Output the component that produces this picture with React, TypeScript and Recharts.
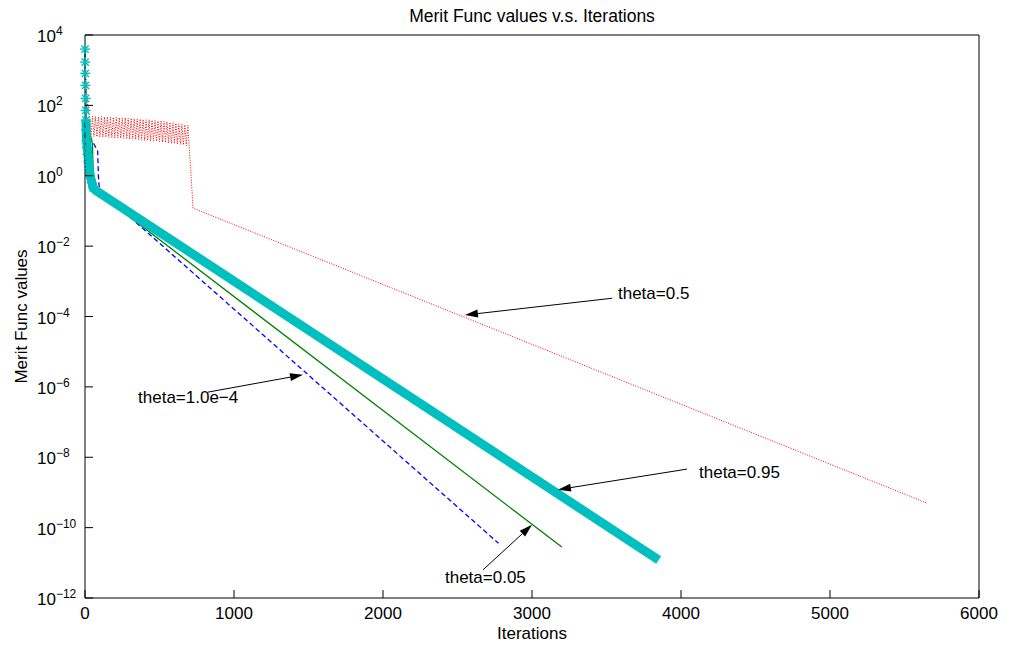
import { LineChart, Line, XAxis, YAxis, ReferenceLine, ReferenceDot, Label } from 'recharts';

// iteration numbers and merit function values
const redIter = [
  0, 10, 20,
  30, 40, 50, 60, 70, 80, 90, 100, 110, 120, 130, 140, 150, 160, 170, 180, 190, 200,
  210, 220, 230, 240, 250, 260, 270, 280, 290, 300, 310, 320, 330, 340, 350, 360, 370, 380,
  390, 400, 410, 420, 430, 440, 450, 460, 470, 480, 490, 500, 510, 520, 530, 540, 550, 560,
  570, 580, 590, 600, 610, 620, 630, 640, 650, 660, 670, 680, 690,
  700, 712, 725, 5650,
];
const redVal = [
  3981, 300, 80,
  50, 13, 49, 13, 49, 12.8, 48, 12.7, 48, 12.5, 47, 12.4, 47, 12.2, 46, 12, 46, 11.9,
  45, 11.8, 45, 11.6, 44, 11.5, 44, 11.2, 43, 11, 43, 10.9, 42, 10.7, 41, 10.5, 41, 10.3,
  40, 10.1, 39, 10, 39, 9.8, 38, 9.7, 37, 9.5, 36, 9.3, 36, 9, 35, 8.8, 34, 8.6,
  33, 8.4, 32, 8.2, 31, 8, 30, 7.8, 29, 7.5, 28, 7.2, 27,
  6, 1, 0.12, 5e-10,
];

const blueIter = [0, 3, 8, 20, 60, 85, 90, 95, 110, 2775];
const blueVal = [3981, 400, 40, 15, 8, 5, 1, 0.5, 0.35, 3.6e-11];

const greenIter = [0, 3, 10, 40, 50, 55, 62, 80, 3200];
const greenVal = [3981, 500, 30, 12, 8, 1, 0.5, 0.35, 2.8e-11];

const cyanStarIter = [0, 1, 2, 3, 4, 5, 6, 8, 10, 13, 17, 22, 28, 35, 45, 55];
const cyanStarVal = [3981, 1700, 813, 372, 158, 72, 38, 20, 10, 6.3, 4, 2.5, 1.6, 1, 0.63, 0.45];
const cyanBandIter = [6, 10, 35, 55, 70, 3850];
const cyanBandVal = [40, 10, 1, 0.45, 0.39, 1.2e-11];

const xTicks = [0, 1000, 2000, 3000, 4000, 5000, 6000];
const yTicks = [1e-12, 1e-10, 1e-8, 1e-6, 1e-4, 1e-2, 1, 1e2, 1e4];

// annotations: label, text anchor, arrow tail, arrow tip (data units)
const noteLabels = ['theta=0.5', 'theta=1.0e\u22124', 'theta=0.95', 'theta=0.05'];
const noteTextX = [3577, 356, 4121, 2416];
const noteTextY = [3.1e-4, 3.5e-7, 2.6e-9, 2.7e-12];
const noteTailX = [3537, 826, 4040, 2671];
const noteTailY = [3.3e-4, 7.1e-7, 4.6e-9, 6.3e-12];
const noteTipX = [2550, 1463, 3174, 3000];
const noteTipY = [1.1e-4, 2.2e-6, 1.2e-9, 1.2e-10];

const toPoints = (xs: number[], ys: number[]) => xs.map((x, i) => ({ x, y: ys[i] }));

const FONT = '"Liberation Sans", Arial, Helvetica, sans-serif';
const CYAN = '#00bfbf';

const LeftTick = (props: any) => {
  const { x, y, payload } = props;
  const exp = Math.round(Math.log10(payload.value));
  const expText = exp < 0 ? '\u2212' + Math.abs(exp) : String(exp);
  return (
    <g>
      <line x1={x} x2={x + 8} y1={y} y2={y} stroke="#000" />
      <text x={x - 48} y={y + 7} fontSize={17} fontFamily={FONT} fill="#000">
        10<tspan dy={-7} fontSize={12}>{expText}</tspan>
      </text>
    </g>
  );
};

const RightTick = (props: any) => (
  <line x1={props.x} x2={props.x - 8} y1={props.y} y2={props.y} stroke="#000" />
);

const BottomTick = (props: any) => {
  const { x, y, payload } = props;
  return (
    <g>
      <line x1={x} x2={x} y1={y} y2={y - 8} stroke="#000" />
      <text x={x} y={y + 21} textAnchor="middle" fontSize={17} fontFamily={FONT} fill="#000">
        {payload.value}
      </text>
    </g>
  );
};

const TopTick = (props: any) => (
  <line x1={props.x} x2={props.x} y1={props.y} y2={props.y + 8} stroke="#000" />
);

const StarDot = (props: any) => {
  const { cx, cy, index } = props;
  const r = 5;
  const d = r * 0.72;
  return (
    <g key={'star' + index} stroke={CYAN} strokeWidth={1.4}>
      <line x1={cx - r} x2={cx + r} y1={cy} y2={cy} />
      <line x1={cx} x2={cx} y1={cy - r} y2={cy + r} />
      <line x1={cx - d} x2={cx + d} y1={cy - d} y2={cy + d} />
      <line x1={cx - d} x2={cx + d} y1={cy + d} y2={cy - d} />
    </g>
  );
};

const Arrow = (props: any) => {
  const { x1, y1, x2, y2 } = props;
  const ang = Math.atan2(y2 - y1, x2 - x1);
  const len = 13;
  const hw = 4;
  const bx = x2 - len * Math.cos(ang);
  const by = y2 - len * Math.sin(ang);
  const px = -Math.sin(ang) * hw;
  const py = Math.cos(ang) * hw;
  return (
    <g>
      <line x1={x1} y1={y1} x2={bx} y2={by} stroke="#000" strokeWidth={1} />
      <polygon points={`${x2},${y2} ${bx + px},${by + py} ${bx - px},${by - py}`} fill="#000" />
    </g>
  );
};

export default function App() {
  const red = toPoints(redIter, redVal);
  const blue = toPoints(blueIter, blueVal);
  const green = toPoints(greenIter, greenVal);
  const cyanStars = toPoints(cyanStarIter, cyanStarVal);
  const cyanBand = toPoints(cyanBandIter, cyanBandVal);

  return (
    <div style={{ position: 'absolute', left: 0, top: 0, width: 1015, height: 645, background: '#fff', fontFamily: FONT }}>
      <div
        style={{
          position: 'absolute', left: 85, top: 8, width: 894, textAlign: 'center',
          fontSize: 17.5, lineHeight: '17px', color: '#000', fontFamily: FONT,
        }}
      >
        Merit Func values v.s. Iterations
      </div>
      <LineChart width={1015} height={645} margin={{ top: 34, right: 35, bottom: 0, left: 0 }}>
        <XAxis
          type="number" dataKey="x" domain={[0, 6000]} ticks={xTicks} height={47}
          axisLine={{ stroke: '#000' }} tickLine={false} tickSize={0} tickMargin={0} tick={BottomTick}
        >
          <Label value="Iterations" position="center" dy={11} fontSize={17} fontFamily={FONT} fill="#000" />
        </XAxis>
        <XAxis
          xAxisId="top" orientation="top" type="number" dataKey="x" domain={[0, 6000]} ticks={xTicks} height={1}
          axisLine={{ stroke: '#000' }} tickLine={false} tickSize={0} tickMargin={0} tick={TopTick}
        />
        <YAxis
          type="number" scale="log" domain={[1e-12, 1e4]} ticks={yTicks} width={85}
          axisLine={{ stroke: '#000' }} tickLine={false} tickSize={0} tickMargin={0} tick={LeftTick}
        >
          <Label value="Merit Func values" angle={-90} position="center" dx={-22} fontSize={17} fontFamily={FONT} fill="#000" />
        </YAxis>
        <YAxis
          yAxisId="right" orientation="right" type="number" scale="log" domain={[1e-12, 1e4]} ticks={yTicks} width={1}
          axisLine={{ stroke: '#000' }} tickLine={false} tickSize={0} tickMargin={0} tick={RightTick}
        />

        <Line data={red} dataKey="y" stroke="#ff0000" strokeWidth={1} strokeDasharray="1 1.5" dot={false} isAnimationActive={false} />
        <Line data={blue} dataKey="y" stroke="#0000ff" strokeWidth={1.3} strokeDasharray="5 3" dot={false} isAnimationActive={false} />
        <Line data={green} dataKey="y" stroke="#008000" strokeWidth={1.3} dot={false} isAnimationActive={false} />
        <Line data={cyanBand} dataKey="y" stroke={CYAN} strokeWidth={9} strokeLinejoin="round" dot={false} isAnimationActive={false} />
        <Line data={cyanStars} dataKey="y" stroke={CYAN} strokeWidth={1} dot={StarDot} isAnimationActive={false} />

        {noteLabels.map((lab, i) => (
          <ReferenceLine
            key={'arrow' + i}
            segment={[{ x: noteTailX[i], y: noteTailY[i] }, { x: noteTipX[i], y: noteTipY[i] }]}
            shape={Arrow}
          />
        ))}
        {noteLabels.map((lab, i) => (
          <ReferenceDot
            key={'note' + i}
            x={noteTextX[i]}
            y={noteTextY[i]}
            shape={(p: any) => (
              <text x={p.cx} y={p.cy} fontSize={17} fontFamily={FONT} fill="#000">{lab}</text>
            )}
          />
        ))}
      </LineChart>
    </div>
  );
}
